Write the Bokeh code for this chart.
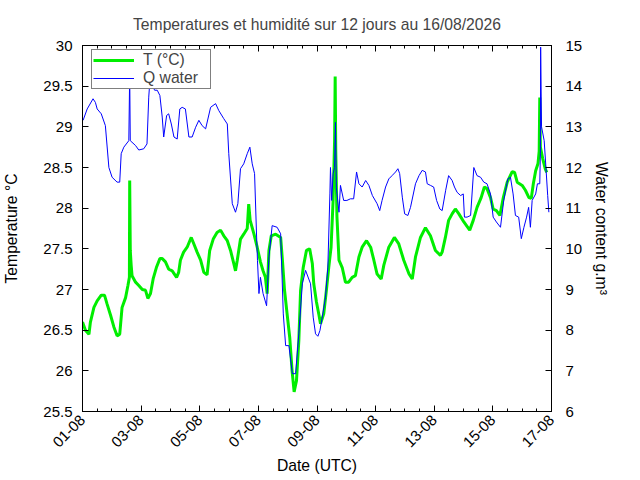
import math
from datetime import datetime, timezone
import numpy as np
from bokeh.plotting import figure
from bokeh.models import (Range1d, LinearAxis, DatetimeAxis, FixedTicker,
                          DatetimeTickFormatter, Legend, LegendItem, ColumnDataSource)
from bokeh.embed import file_html
from bokeh.resources import INLINE

# ---------------- data ----------------
start_date = datetime(2026, 8, 1, tzinfo=timezone.utc)
DAY_MS = 86400000.0

# temperature series: time (days since 01-08 00:00 UTC) and value (°C)
t_temp_days = [0.00, 0.10, 0.22, 0.27, 0.39, 0.50, 0.64, 0.75, 0.84, 0.96, 1.07, 1.18, 1.27,
               1.35, 1.47, 1.55, 1.60, 1.61, 1.63, 1.66, 1.69, 1.81, 1.92, 2.04, 2.15, 2.23,
               2.32, 2.41, 2.52, 2.64, 2.72, 2.83, 2.94, 3.06, 3.21, 3.28, 3.34, 3.45, 3.57,
               3.71, 3.80, 3.91, 4.03, 4.14, 4.25, 4.34, 4.46, 4.59, 4.71, 4.82, 4.94, 5.05,
               5.16, 5.22, 5.28, 5.39, 5.50, 5.62, 5.67, 5.72, 5.85, 5.96, 6.07, 6.16, 6.24,
               6.30, 6.36, 6.44, 6.59, 6.76, 6.82, 6.89, 6.98, 7.07, 7.15, 7.22, 7.30, 7.38,
               7.44, 7.53, 7.64, 7.75, 7.84, 7.89, 7.98, 8.07, 8.12, 8.23, 8.32, 8.40, 8.48,
               8.55, 8.60, 8.62, 8.64, 8.68, 8.75, 8.86, 8.97, 9.08, 9.20, 9.31, 9.43, 9.54,
               9.69, 9.83, 9.94, 10.05, 10.19, 10.28, 10.45, 10.64, 10.79, 10.96, 11.14,
               11.25, 11.36, 11.53, 11.70, 11.87, 12.04, 12.21, 12.27, 12.38, 12.49, 12.61,
               12.72, 12.84, 13.01, 13.21, 13.33, 13.46, 13.60, 13.71, 13.80, 13.92, 14.01,
               14.12, 14.24, 14.35, 14.49, 14.66, 14.74, 14.83, 15.00, 15.11, 15.23, 15.31,
               15.38, 15.46, 15.54, 15.58, 15.60, 15.62, 15.70, 15.79, 15.84]
temp_c = [26.60, 26.50, 26.45, 26.60, 26.78, 26.86, 26.93, 26.93, 26.82, 26.68, 26.54, 26.43, 26.45,
          26.78, 26.90, 27.05, 27.15, 28.34, 27.48, 27.30, 27.17, 27.09, 27.05, 27.00, 26.99, 26.89,
          26.95, 27.13, 27.27, 27.38, 27.38, 27.34, 27.25, 27.23, 27.15, 27.21, 27.36, 27.46, 27.52,
          27.64, 27.56, 27.46, 27.36, 27.21, 27.18, 27.48, 27.62, 27.70, 27.73, 27.66, 27.60, 27.48,
          27.32, 27.23, 27.36, 27.62, 27.68, 27.75, 28.05, 27.85, 27.68, 27.52, 27.34, 27.23, 27.15,
          26.95, 27.48, 27.66, 27.68, 27.64, 27.36, 27.00, 26.70, 26.41, 26.00, 25.74, 25.88, 26.37,
          26.99, 27.27, 27.48, 27.50, 27.32, 27.07, 26.85, 26.68, 26.58, 26.70, 26.99, 27.27, 27.52,
          28.10, 28.83, 29.62, 28.70, 27.90, 27.36, 27.27, 27.09, 27.09, 27.15, 27.17, 27.40, 27.52,
          27.60, 27.52, 27.36, 27.19, 27.13, 27.30, 27.52, 27.64, 27.56, 27.36, 27.19,
          27.13, 27.40, 27.64, 27.76, 27.66, 27.48, 27.42, 27.46, 27.64, 27.85, 27.93,
          27.99, 27.93, 27.83, 27.73, 27.85, 28.01, 28.13, 28.26, 28.24, 28.13, 27.99,
          27.97, 27.91, 28.12, 28.32, 28.45, 28.44, 28.32, 28.28, 28.22, 28.13, 28.12,
          28.30, 28.46, 28.55, 28.70, 29.36, 28.75, 28.61, 28.48, 28.44]

# water content series: time (days since 01-08 00:00 UTC) and value (g.m-3)
t_q_days = [0.02, 0.16, 0.36, 0.44, 0.50, 0.64, 0.78, 0.90, 1.01, 1.18, 1.27, 1.32, 1.41, 1.58,
            1.61, 1.63, 1.81, 1.92, 2.09, 2.20, 2.26, 2.32, 2.36, 2.46, 2.55, 2.64, 2.72, 2.77,
            2.87, 2.94, 3.03, 3.12, 3.23, 3.32, 3.40, 3.51, 3.63, 3.74, 3.86, 3.97, 4.08, 4.20,
            4.37, 4.54, 4.65, 4.82, 4.94, 4.99, 5.11, 5.22, 5.30, 5.39, 5.50, 5.62, 5.71, 5.79,
            5.87, 5.94, 5.97, 6.02, 6.07, 6.16, 6.28, 6.36, 6.47, 6.64, 6.76, 6.85, 6.93, 7.04,
            7.16, 7.27, 7.38, 7.50, 7.61, 7.78, 7.87, 7.95, 8.03, 8.10, 8.18, 8.29, 8.37, 8.44,
            8.46, 8.50, 8.55, 8.60, 8.63, 8.66, 8.75, 8.80, 8.91, 9.02, 9.14, 9.25, 9.35, 9.43,
            9.54, 9.66, 9.77, 9.89, 10.05, 10.14, 10.22, 10.34, 10.45, 10.56, 10.68, 10.76,
            10.82, 10.91, 10.99, 11.10, 11.19, 11.36, 11.48, 11.59, 11.70, 11.76, 11.87, 11.98,
            12.08, 12.19, 12.27, 12.39, 12.49, 12.61, 12.69, 12.78, 12.90, 12.99, 13.03, 13.12,
            13.24, 13.35, 13.46, 13.58, 13.69, 13.80, 13.92, 14.01, 14.12, 14.26, 14.37, 14.51,
            14.60, 14.69, 14.77, 14.88, 14.97, 15.06, 15.15, 15.22, 15.28, 15.34, 15.46, 15.52,
            15.60, 15.62, 15.63, 15.66, 15.75, 15.81, 15.87, 15.91]
q_water = [13.16, 13.44, 13.69, 13.60, 13.44, 13.32, 13.03, 12.00, 11.76, 11.64, 11.64, 12.34, 12.50, 12.66,
           14.30, 12.66, 12.54, 12.43, 12.46, 12.58, 13.73, 14.35, 14.06, 13.90, 13.90, 13.77, 13.24, 12.75,
           13.28, 13.32, 13.07, 12.75, 12.70, 13.44, 13.48, 13.44, 12.75, 12.75, 12.99, 13.16, 13.03, 12.95,
           13.48, 13.57, 13.40, 13.20, 13.07, 12.34, 11.11, 10.90, 11.11, 11.97, 12.09, 12.34, 12.50, 12.09,
           11.85, 10.29, 9.71, 8.90, 9.30, 8.90, 8.60, 9.80, 10.57, 10.53, 10.37, 8.40, 7.62, 7.62,
           6.93, 6.93, 7.91, 9.14, 9.47, 9.14, 8.32, 7.91, 7.85, 7.99, 8.32, 8.81, 9.55, 11.35,
           12.00, 11.19, 11.85, 12.00, 13.11, 11.50, 10.90, 11.56, 11.19, 11.19, 11.23, 11.23, 11.89, 11.60,
           11.52, 11.68, 11.56, 11.31, 11.11, 10.94, 11.19, 11.52, 11.72, 11.80, 11.89, 11.97,
           11.85, 11.27, 10.86, 10.82, 11.02, 11.60, 11.80, 11.93, 11.89, 11.60, 11.56, 11.52,
           11.19, 10.98, 10.94, 11.44, 11.80, 11.68, 11.52, 11.39, 11.31, 11.35, 10.78, 10.78,
           10.82, 12.00, 11.80, 11.76, 11.64, 11.60, 11.35, 10.78, 10.66, 10.53, 11.19, 11.72,
           11.76, 11.35, 10.82, 10.78, 10.25, 10.53, 10.78, 11.02, 10.53, 11.19, 11.35, 11.60,
           11.60, 12.34, 14.96, 13.00, 12.66, 12.00, 11.31, 10.90]

x_tick_days = [0, 2, 4, 6, 8, 10, 12, 14, 16]
x_minor_days = [i * 0.5 for i in range(33)]
temp_ticks = [25.5, 26.0, 26.5, 27.0, 27.5, 28.0, 28.5, 29.0, 29.5, 30.0]
temp_tick_labels = ["25.5", "26", "26.5", "27", "27.5", "28", "28.5", "29", "29.5", "30"]
q_ticks = [6, 7, 8, 9, 10, 11, 12, 13, 14, 15]

# ---------------- figure ----------------
start_ms = start_date.timestamp() * 1000.0
def to_ms(days):
    return start_ms + np.asarray(days, dtype=float) * DAY_MS

FONT = "Liberation Sans"
FS = "15px"
FS_LABEL = "15.7px"

p = figure(width=636, height=476, x_axis_type="datetime",
           output_backend="svg", toolbar_location=None,
           x_range=Range1d(to_ms(0), to_ms(16)), y_range=Range1d(25.5, 30),
           min_border_left=82, min_border_right=85, min_border_top=45, min_border_bottom=65,
           title="Temperatures et humidité sur 12 jours au 16/08/2026")
p.extra_y_ranges = {"q": Range1d(6, 15)}
p.xgrid.visible = False
p.ygrid.visible = False
p.outline_line_color = "black"
p.outline_line_width = 1
p.background_fill_color = "white"
p.border_fill_color = "white"

p.title.text_font = FONT
p.title.text_font_size = FS_LABEL
p.title.text_font_style = "normal"
p.title.align = "center"
p.title.offset = -4
p.title.standoff = 25

xticker = FixedTicker(ticks=list(to_ms(x_tick_days)), minor_ticks=list(to_ms(x_minor_days)))
fmt = "%d-%m"
xfmt = DatetimeTickFormatter(milliseconds=fmt, seconds=fmt, minsec=fmt, minutes=fmt,
                             hourmin=fmt, hours=fmt, days=fmt, months=fmt, years=fmt)

def style_axis(ax):
    ax.axis_line_color = "black"
    ax.major_tick_line_color = "black"
    ax.minor_tick_line_color = "black"
    ax.major_tick_in = 6
    ax.major_tick_out = 0
    ax.minor_tick_in = 3
    ax.minor_tick_out = 0
    ax.major_label_text_font = FONT
    ax.major_label_text_font_size = FS
    ax.major_label_text_color = "black"
    ax.axis_label_text_font = FONT
    ax.axis_label_text_font_size = FS_LABEL
    ax.axis_label_text_font_style = "normal"
    ax.axis_label_text_color = "black"

xa = p.xaxis[0]
xa.ticker = xticker
xa.formatter = xfmt
xa.major_label_orientation = math.pi / 4
xa.major_label_standoff = 6
xa.axis_label = "Date (UTC)"
xa.axis_label_standoff = 2
style_axis(xa)

# mirrored ticks on the top edge (no labels)
top = DatetimeAxis(ticker=xticker, formatter=xfmt)
style_axis(top)
top.major_label_text_font_size = "0px"
top.major_label_text_color = None
top.major_label_standoff = 0
p.add_layout(top, "above")

ya = p.yaxis[0]
ya.ticker = FixedTicker(ticks=temp_ticks)
ya.major_label_overrides = {v: s for v, s in zip(temp_ticks, temp_tick_labels)}
ya.axis_label = "Temperature °C"
ya.major_label_standoff = 10
ya.axis_label_standoff = 20
style_axis(ya)
ya.minor_tick_line_color = None

yq = LinearAxis(y_range_name="q", ticker=FixedTicker(ticks=q_ticks),
                axis_label="Water content g.m\u00b3")
style_axis(yq)
yq.minor_tick_line_color = None
yq.major_label_standoff = 14
yq.axis_label_standoff = 8
p.add_layout(yq, "right")

src_t = ColumnDataSource(dict(x=to_ms(t_temp_days), y=temp_c))
src_q = ColumnDataSource(dict(x=to_ms(t_q_days), y=q_water))
r_t = p.line("x", "y", source=src_t, line_color="#00ee00", line_width=3)
r_q = p.line("x", "y", source=src_q, y_range_name="q", line_color="#0000ff", line_width=1)

legend = Legend(items=[LegendItem(label="T (°C)", renderers=[r_t]),
                       LegendItem(label="Q water", renderers=[r_q])],
                location=(9, 322))
legend.label_text_font = FONT
legend.label_text_font_size = FS_LABEL
legend.label_height = 14
legend.glyph_height = 14
legend.glyph_width = 41
legend.label_width = 66
legend.label_standoff = 9
legend.spacing = 0
legend.padding = 1
legend.margin = 0
legend.border_line_color = "black"
legend.border_line_width = 1
legend.background_fill_color = "white"
legend.background_fill_alpha = 1.0
p.add_layout(legend)

open("out.html", "w").write(file_html(p, INLINE))
